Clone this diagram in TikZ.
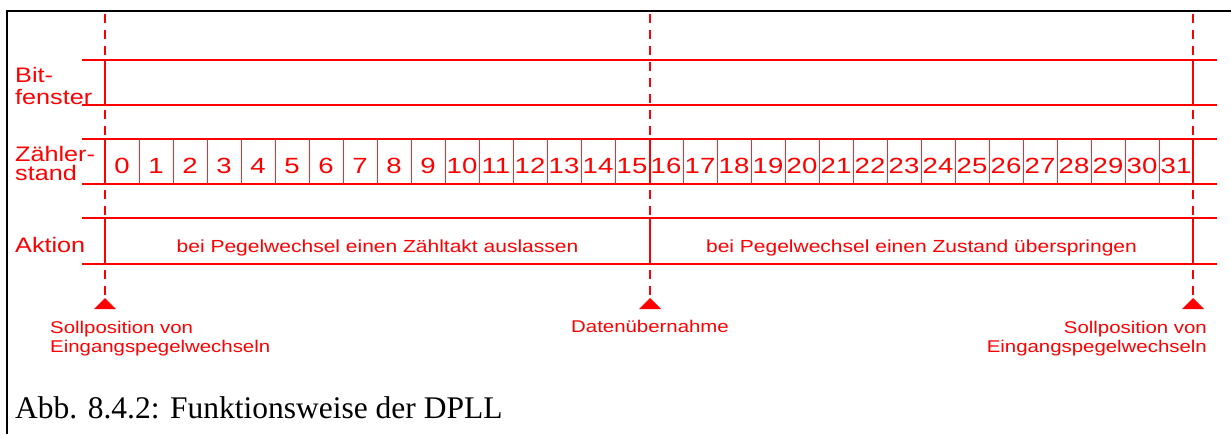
\documentclass[tikz,border=0pt]{standalone}
\usepackage{fontspec}
\newfontfamily\wsans[FakeStretch=1.2]{Liberation Sans}
\newfontfamily\nsans[FakeStretch=1.25]{Liberation Sans}
\newfontfamily\capfont{Liberation Serif}
\begin{document}
\begin{tikzpicture}[x=1pt,y=-1pt,
  rowline/.style={red, line width=2.8pt},
  vline/.style={red, line width=2.8pt},
  cellline/.style={red!85, line width=0.9pt},
  dashline/.style={red, line width=1.6pt, dash pattern=on 9pt off 7pt},
  lbl/.style={red, font=\wsans\fontsize{21}{21}\selectfont, inner sep=0pt, anchor=base west},
  num/.style={red, font=\nsans\fontsize{22}{22}\selectfont, inner sep=0pt, anchor=base},
  act/.style={red, font=\wsans\fontsize{17.5}{17.5}\selectfont, inner sep=0pt, anchor=base},
  note/.style={red, font=\wsans\fontsize{17}{17}\selectfont, inner sep=0pt},
  tri/.style={fill=red, draw=none},
  frame/.style={black, line width=2pt}]
\useasboundingbox (0,0) rectangle (1231,434);
% frame
\draw[frame] (7,434) -- (7,11) -- (1231,11);
% coordinates
\foreach \n/\x in {L/105, M/650, R/1193}{
  \coordinate (\n top) at (\x,14);
  \coordinate (\n tip) at (\x,298);
}
% dashed lines
\foreach \n in {L,M,R}{ \draw[dashline] (\n top) -- (\n tip); }
% triangles
\foreach \n in {L,M,R}{
  \fill[tri] (\n tip) -- ++(-11,11) -- ++(22,0) -- cycle;
}
% row lines
\foreach \y in {60,105,139,184,218,264}{
  \draw[rowline] (82,\y) -- (1217,\y);
}
% cell dividers
\foreach \k in {1,...,15,17,18,...,31}{
  \draw[cellline] (105+34*\k,139) -- (105+34*\k,184);
}
% main verticals
\draw[vline] (105,60) -- (105,105);
\draw[vline] (105,139) -- (105,184);
\draw[vline] (105,218) -- (105,264);
\draw[vline] (650,139) -- (650,184);
\draw[vline] (650,218) -- (650,264);
\draw[vline] (1193,60) -- (1193,105);
\draw[vline] (1193,139) -- (1193,184);
\draw[vline] (1193,218) -- (1193,264);
% labels
\node[lbl] (bit1) at (15,82) {Bit-};
\node[lbl] (bit2) at (15,104) {fenster};
\node[lbl] (z1) at (15,161) {Zähler-};
\node[lbl] (z2) at (15,180) {stand};
\node[lbl] (akt) at (15,252) {Aktion};
% numbers
\foreach \i in {0,...,31}{
  \node[num] (n\i) at (122+34*\i,173) {\i};
}
% actions
\node[act] (a1) at (377.5,252) {bei Pegelwechsel einen Zähltakt auslassen};
\node[act] (a2) at (921.5,252) {bei Pegelwechsel einen Zustand überspringen};
% notes
\node[note, anchor=base west] (s1a) at (50,333) {Sollposition von};
\node[note, anchor=base west] (s1b) at (50,352) {Eingangspegelwechseln};
\node[note, anchor=base] (dat) at (650,332) {Datenübernahme};
\node[note, anchor=base east] (s2a) at (1207,333) {Sollposition von};
\node[note, anchor=base east] (s2b) at (1207,352) {Eingangspegelwechseln};
% caption
\node[anchor=base west, inner sep=0pt, font=\capfont\fontsize{31.5}{31.5}\selectfont] (cap) at (15,418) {Abb. 8.4.2: Funktionsweise der DPLL};
\end{tikzpicture}
\end{document}
